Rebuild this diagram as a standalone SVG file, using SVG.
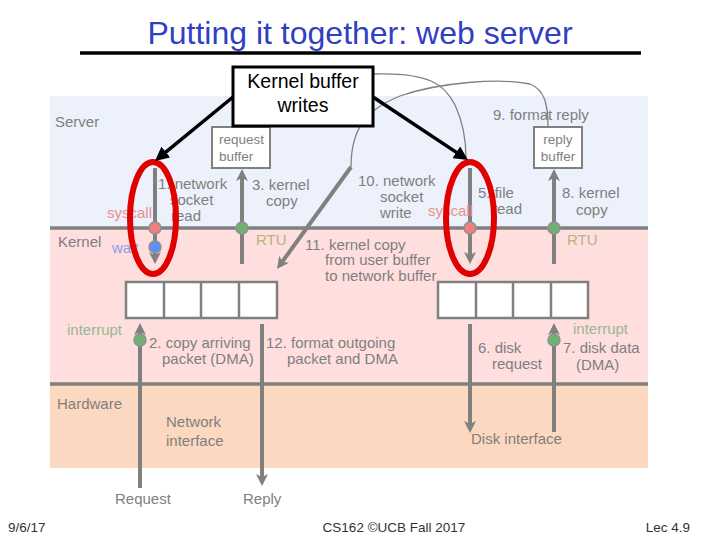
<svg xmlns="http://www.w3.org/2000/svg" width="720" height="540" viewBox="0 0 720 540">
<defs>
<style>
text{font-family:"Liberation Sans",Arial,sans-serif;}
.t{font-size:15px;fill:#7f7f7f;}
.sys{fill:#e89090;}
.wait{fill:#8c9ce8;}
.rtu{fill:#b4b484;}
.intr{fill:#98b890;}
.foot{font-size:13.5px;fill:#333;}
.bnd{stroke:#808080;stroke-width:3.5;}
.gl{stroke:#808080;stroke-width:4;fill:none;}
.thin{stroke:#808080;stroke-width:1.3;fill:none;}
.buf{fill:#fff;stroke:#808080;stroke-width:2.5;}
.box{fill:#fff;stroke:#808080;stroke-width:2;}
.red{fill:#f08080;stroke:#909090;stroke-width:1.5;}
.grn{fill:#70b070;stroke:#909090;stroke-width:1.5;}
.blu{fill:#6090f0;stroke:#909090;stroke-width:1.5;}
.ell{fill:none;stroke:#e00000;stroke-width:6;}
.blk{stroke:#000;stroke-width:3.5;fill:none;}
</style>
<marker id="ga" viewBox="0 0 12 12" markerWidth="12" markerHeight="12" refX="3" refY="6" orient="auto" markerUnits="userSpaceOnUse">
<path d="M0,0 L12,6 L0,12 L3,6 z" fill="#808080"/>
</marker>
<marker id="ba" viewBox="0 0 14 14" markerWidth="14" markerHeight="14" refX="6" refY="7" orient="auto" markerUnits="userSpaceOnUse">
<path d="M0,0 L14,7 L0,14 z" fill="#000"/>
</marker>
</defs>
<rect width="720" height="540" fill="#fff"/>

<g id="title">
<text x="360" y="44" text-anchor="middle" style="font-size:32px;fill:#3040c0">Putting it together: web server</text>
<line x1="80" y1="53" x2="641" y2="53" stroke="#000" stroke-width="3.5"/>
</g>

<g id="layers">
<rect x="50" y="96" width="598" height="132" fill="#edf1fb"/>
<rect x="50" y="228" width="598" height="156" fill="#ffdede"/>
<rect x="50" y="384" width="598" height="84" fill="#fcd8c0"/>
<line class="bnd" x1="50" y1="228" x2="648" y2="228"/>
<line class="bnd" x1="50" y1="384" x2="648" y2="384"/>
<text class="t" x="55" y="127">Server</text>
<text class="t" x="58" y="247">Kernel</text>
<text class="t" x="57" y="409">Hardware</text>
</g>

<g id="request-buffer">
<rect class="box" x="212" y="127" width="58" height="41"/>
<text class="t" x="219" y="144" style="font-size:13.5px">request</text>
<text class="t" x="219" y="161" style="font-size:13.5px">buffer</text>
</g>
<g id="reply-buffer">
<rect class="box" x="534" y="127" width="48" height="41"/>
<text class="t" x="558" y="144" text-anchor="middle" style="font-size:13.5px">reply</text>
<text class="t" x="558" y="161" text-anchor="middle" style="font-size:13.5px">buffer</text>
</g>

<g id="network-buffer">
<rect class="buf" x="126" y="282" width="151" height="36"/>
<line class="buf" x1="164" y1="282" x2="164" y2="318"/>
<line class="buf" x1="201" y1="282" x2="201" y2="318"/>
<line class="buf" x1="239" y1="282" x2="239" y2="318"/>
</g>
<g id="disk-buffer">
<rect class="buf" x="438" y="282" width="150" height="36"/>
<line class="buf" x1="476" y1="282" x2="476" y2="318"/>
<line class="buf" x1="513" y1="282" x2="513" y2="318"/>
<line class="buf" x1="551" y1="282" x2="551" y2="318"/>
</g>

<g id="connectors">
<path class="thin" d="M373,74 C430,72 445,85 455,105 C463,122 466,140 466,158"/>
<path class="thin" d="M351,167 C351,130 365,110 400,96 C440,82 500,78 530,84 C545,90 548,105 548,127"/>
<line class="gl" x1="155" y1="168" x2="155" y2="255" marker-end="url(#ga)"/>
<line class="gl" x1="242" y1="264" x2="242" y2="178" marker-end="url(#ga)"/>
<line class="gl" x1="470" y1="168" x2="470" y2="255" marker-end="url(#ga)"/>
<line class="gl" x1="554" y1="264" x2="554" y2="178" marker-end="url(#ga)"/>
<line class="gl" x1="351" y1="167" x2="282.3" y2="261.7" marker-end="url(#ga)"/>
<line class="gl" x1="140" y1="488" x2="140" y2="332" marker-end="url(#ga)"/>
<line class="gl" x1="262" y1="324" x2="262" y2="477" marker-end="url(#ga)"/>
<line class="gl" x1="470" y1="324" x2="470" y2="424" marker-end="url(#ga)"/>
<line class="gl" x1="554" y1="432" x2="554" y2="332" marker-end="url(#ga)"/>
<circle class="red" cx="155" cy="228" r="6"/>
<circle class="blu" cx="155" cy="247" r="6"/>
<circle class="grn" cx="242" cy="228" r="6"/>
<circle class="red" cx="470" cy="228" r="6"/>
<circle class="grn" cx="554" cy="228" r="6"/>
<circle class="grn" cx="140" cy="340" r="6"/>
<circle class="grn" cx="554" cy="340" r="6"/>
</g>

<g id="labels">
<text class="t" x="493" y="120">9. format reply</text>
<text class="t" x="158" y="189">1. network</text>
<text class="t" x="170" y="205">socket</text>
<text class="t" x="171" y="221">read</text>
<text class="t sys" x="107" y="218">syscall</text>
<text class="t" x="252" y="190">3. kernel</text>
<text class="t" x="266" y="206">copy</text>
<text class="t wait" x="112" y="253">wait</text>
<text class="t rtu" x="256" y="245">RTU</text>
<text class="t rtu" x="567" y="245">RTU</text>
<text class="t" x="358" y="186">10. network</text>
<text class="t" x="380" y="202">socket</text>
<text class="t" x="380" y="218">write</text>
<text class="t sys" x="428" y="216">syscall</text>
<text class="t" x="478" y="198">5. file</text>
<text class="t" x="492" y="214">read</text>
<text class="t" x="562" y="198">8. kernel</text>
<text class="t" x="576" y="215">copy</text>
<text class="t" x="305" y="250">11. kernel copy</text>
<text class="t" x="325" y="265">from user buffer</text>
<text class="t" x="325" y="281">to network buffer</text>
<text class="t intr" x="67" y="335">interrupt</text>
<text class="t" x="149" y="348">2. copy arriving</text>
<text class="t" x="162" y="364">packet (DMA)</text>
<text class="t" x="266" y="348">12. format outgoing</text>
<text class="t" x="287" y="364">packet and DMA</text>
<text class="t" x="478" y="353">6. disk</text>
<text class="t" x="492" y="369">request</text>
<text class="t intr" x="573" y="334">interrupt</text>
<text class="t" x="563" y="353">7. disk data</text>
<text class="t" x="576" y="370">(DMA)</text>
<text class="t" x="166" y="427">Network</text>
<text class="t" x="166" y="446">interface</text>
<text class="t" x="471" y="444">Disk interface</text>
<text class="t" x="115" y="504">Request</text>
<text class="t" x="243" y="504">Reply</text>
</g>

<g id="highlights">
<ellipse class="ell" cx="153" cy="218" rx="23" ry="56"/>
<ellipse class="ell" cx="470" cy="218" rx="24" ry="56"/>
</g>

<g id="kernel-buffer-writes">
<line class="blk" x1="233" y1="97" x2="161.2" y2="155.9" marker-end="url(#ba)"/>
<line class="blk" x1="373" y1="97" x2="461.3" y2="155.6" marker-end="url(#ba)"/>
<rect x="233" y="67" width="140" height="59" fill="#fff" stroke="#000" stroke-width="3"/>
<text x="303" y="88" text-anchor="middle" style="font-size:19.5px;fill:#000">Kernel buffer</text>
<text x="303" y="112" text-anchor="middle" style="font-size:19.5px;fill:#000">writes</text>
</g>

<g id="footer">
<text class="foot" x="8" y="532">9/6/17</text>
<text class="foot" x="394" y="532" text-anchor="middle">CS162 ©UCB Fall 2017</text>
<text class="foot" x="690" y="532" text-anchor="end">Lec 4.9</text>
</g>
</svg>
